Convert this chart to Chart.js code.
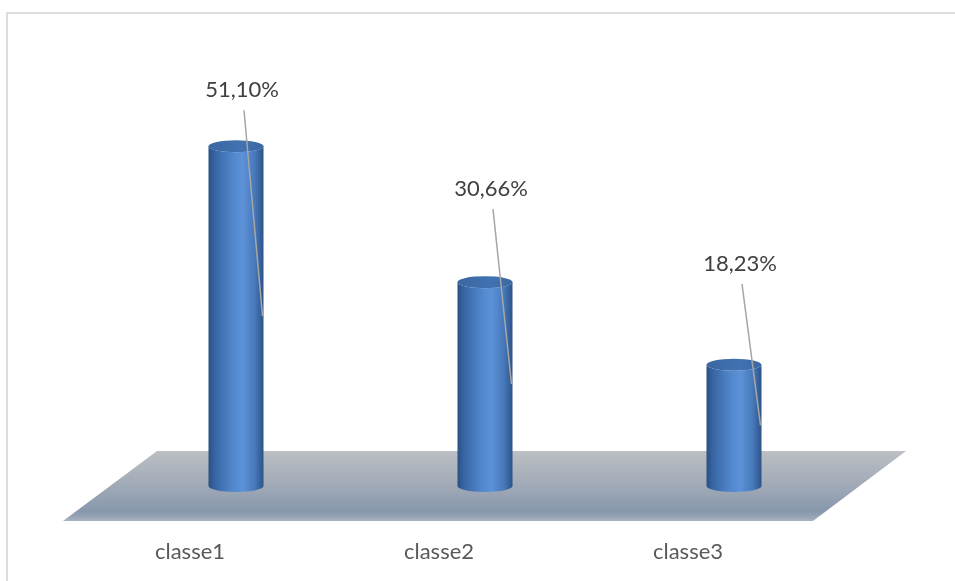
<!DOCTYPE html>
<html>
<head>
<meta charset="utf-8">
<script src="https://cdn.jsdelivr.net/npm/chart.js@4"></script>
<style>
  html, body { margin: 0; padding: 0; background: #ffffff; }
  #wrap { position: relative; width: 955px; height: 581px; overflow: hidden; }
  #frame { position: absolute; left: 6px; top: 12px; width: 2000px; height: 2000px;
           border-left: 2px solid #dcdcdc; border-top: 2px solid #dcdcdc; box-sizing: border-box; }
  canvas { position: absolute; left: 0; top: 0; }
</style>
</head>
<body>
<div id="wrap">
  <div id="frame"></div>
  <canvas id="chart" width="955" height="581"></canvas>
</div>
<script>
// Share of each class, in percent
const categories = ['classe1', 'classe2', 'classe3'];
const shares = [51.10, 30.66, 18.23];

const FONT = 'Lato, "Open Sans", sans-serif';

function pct(v) {
  return v.toFixed(2).replace('.', ',') + '%';
}

// Grey-blue floor under the columns, hung on the zero line
const floorPlugin = {
  id: 'floor',
  beforeDatasetsDraw(chart) {
    const { ctx, chartArea: a } = chart;
    const zeroY = chart.scales.y.getPixelForValue(0);
    const top = zeroY - 35, bottom = zeroY + 35;
    ctx.save();
    const g = ctx.createLinearGradient(0, top, 0, bottom);
    g.addColorStop(0, '#bcbfc3');
    g.addColorStop(0.55, '#9da7b5');
    g.addColorStop(0.86, '#8797ad');
    g.addColorStop(0.93, '#95a2b5');
    g.addColorStop(1, '#a9b3c1');
    ctx.fillStyle = g;
    ctx.beginPath();
    ctx.moveTo(a.left + 45.5, top);
    ctx.lineTo(a.right + 47.5, top);
    ctx.lineTo(a.right - 45.5, bottom);
    ctx.lineTo(a.left - 48.5, bottom);
    ctx.closePath();
    ctx.fill();
    ctx.restore();
  }
};

// Columns drawn as shaded cylinders, with call-out labels
const cylinderPlugin = {
  id: 'cylinders',
  afterDatasetsDraw(chart, args, opts) {
    const { ctx } = chart;
    const meta = chart.getDatasetMeta(0);
    const ry = 6;
    meta.data.forEach((bar, i) => {
      const cx = bar.x, rx = bar.width / 2;
      const topY = bar.y, baseY = bar.base;
      ctx.save();
      // body
      const side = ctx.createLinearGradient(cx - rx, 0, cx + rx, 0);
      side.addColorStop(0, '#2a5084');
      side.addColorStop(0.12, '#3866a4');
      side.addColorStop(0.45, '#5288ce');
      side.addColorStop(0.62, '#5d92d8');
      side.addColorStop(0.85, '#4677b9');
      side.addColorStop(1, '#2c5388');
      ctx.fillStyle = side;
      ctx.beginPath();
      ctx.moveTo(cx - rx, topY);
      ctx.lineTo(cx - rx, baseY);
      ctx.ellipse(cx, baseY, rx, ry, 0, Math.PI, 0, true);
      ctx.lineTo(cx + rx, topY);
      ctx.ellipse(cx, topY, rx, ry, 0, 0, Math.PI, false);
      ctx.closePath();
      ctx.fill();
      // lid
      const lid = ctx.createLinearGradient(cx - rx, topY - ry, cx + rx, topY + ry);
      lid.addColorStop(0, '#3a66a0');
      lid.addColorStop(0.6, '#4172b2');
      lid.addColorStop(1, '#3a679f');
      ctx.fillStyle = lid;
      ctx.beginPath();
      ctx.ellipse(cx, topY, rx, ry, 0, 0, Math.PI * 2);
      ctx.fill();

      // call-out label and leader line
      const ly = topY - opts.lift[i];
      const lx = cx + 6;
      ctx.strokeStyle = '#a6a6a6';
      ctx.lineWidth = 1.5;
      ctx.beginPath();
      ctx.moveTo(lx + 2, ly + 20);
      ctx.lineTo(cx + rx - 1, (topY + baseY) / 2);
      ctx.stroke();
      ctx.fillStyle = '#404040';
      ctx.font = '22px ' + FONT;
      ctx.textAlign = 'center';
      ctx.textBaseline = 'middle';
      ctx.fillText(pct(shares[i]), lx, ly);
      ctx.restore();
    });
  }
};

new Chart(document.getElementById('chart'), {
  type: 'bar',
  data: {
    labels: categories,
    datasets: [{
      data: shares,
      backgroundColor: 'rgba(0,0,0,0)',
      borderWidth: 0,
      barThickness: 55
    }]
  },
  options: {
    responsive: false,
    devicePixelRatio: 1,
    animation: false,
    events: [],
    layout: { padding: { left: 111.5, right: 96.5, top: 87, bottom: 16 } },
    plugins: {
      legend: { display: false },
      tooltip: { enabled: false },
      cylinders: { lift: [56, 93, 101] }
    },
    scales: {
      x: {
        grid: { display: false, drawTicks: false },
        border: { display: false },
        ticks: {
          padding: 0,
          labelOffset: -46,
          color: '#595959',
          font: { family: FONT, size: 22 }
        }
      },
      y: {
        display: false,
        min: -7.9,
        max: 60
      }
    }
  },
  plugins: [floorPlugin, cylinderPlugin]
});
</script>
</body>
</html>
